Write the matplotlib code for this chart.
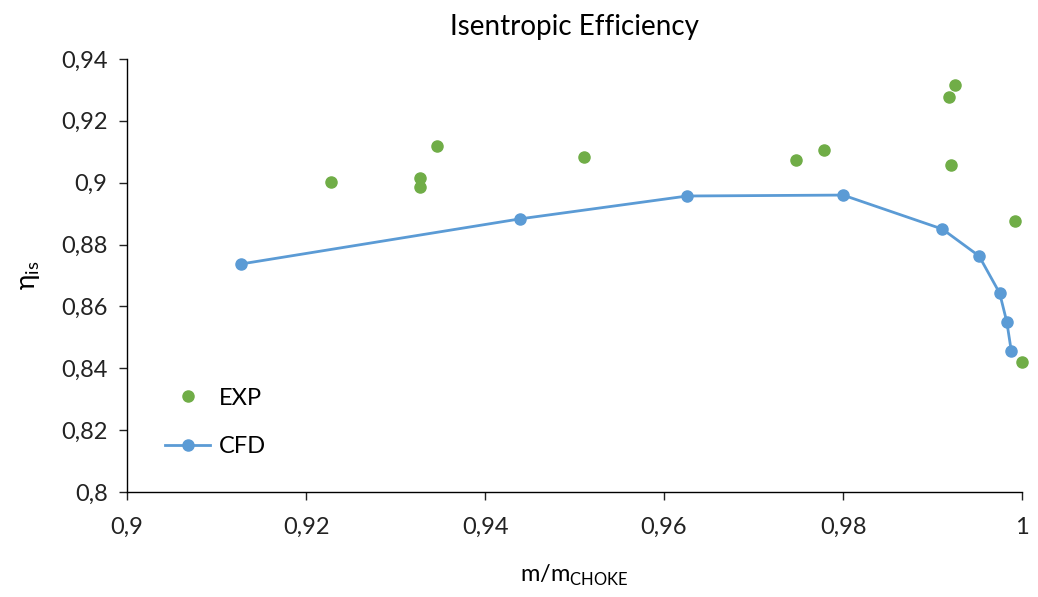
import matplotlib
matplotlib.use("Agg")
from matplotlib import pyplot as plt
from matplotlib.ticker import FuncFormatter

plt.rcParams['font.family'] = ['Lato', 'DejaVu Sans']

# CFD
cfd_x = [0.9127, 0.9439, 0.9626, 0.9800, 0.9911, 0.9952, 0.9975, 0.9983, 0.9988]
cfd_y = [0.8737, 0.8883, 0.8957, 0.8960, 0.8850, 0.8763, 0.8643, 0.8550, 0.8456]

# EXP
exp_x = [0.9228, 0.9327, 0.9327, 0.9346, 0.9511, 0.9748, 0.9779, 0.9918, 0.9925, 0.9921, 0.9992, 1.0000]
exp_y = [0.9002, 0.9015, 0.8986, 0.9119, 0.9083, 0.9073, 0.9106, 0.9277, 0.9316, 0.9057, 0.8876, 0.8420]

green = '#70AD47'
blue = '#5B9BD5'

fig = plt.figure(figsize=(10.38, 5.97), dpi=100)
ax = fig.add_axes([0.1224, 0.1759, 0.8622, 0.7253])

ax.plot(exp_x, exp_y, 'o', color=green, markersize=8, label='EXP', clip_on=False, zorder=3)
ax.plot(cfd_x, cfd_y, '-o', color=blue, markersize=8, linewidth=2, label='CFD', clip_on=False, zorder=3)

ax.set_xlim(0.9, 1.0)
ax.set_ylim(0.8, 0.94)
ax.set_xticks([0.9, 0.92, 0.94, 0.96, 0.98, 1.0])
ax.set_yticks([0.8, 0.82, 0.84, 0.86, 0.88, 0.9, 0.92, 0.94])

fmt = FuncFormatter(lambda v, p: f"{round(v, 2):g}".replace('.', ','))
ax.xaxis.set_major_formatter(fmt)
ax.yaxis.set_major_formatter(fmt)

for s in ['top', 'right']:
    ax.spines[s].set_visible(False)
for s in ['left', 'bottom']:
    ax.spines[s].set_linewidth(1.0)
    ax.spines[s].set_color('black')

ax.tick_params(axis='both', direction='out', length=6, width=1, labelsize=17, colors='#222222')
ax.tick_params(axis='x', pad=12)
ax.tick_params(axis='y', pad=8)

ax.set_title('Isentropic Efficiency', fontsize=20, pad=17)
ax.set_xlabel(r'm/m$_{\mathregular{CHOKE}}$', fontsize=17, labelpad=18)
ax.set_ylabel(r'$\mathregular{\eta_{is}}$', fontsize=19, labelpad=14)

ax.legend(loc='lower left', bbox_to_anchor=(0.019, 0.032), frameon=False, fontsize=17,
          labelspacing=1.15, handlelength=1.9, handletextpad=0.35)

fig.savefig('out.png', dpi=100)
